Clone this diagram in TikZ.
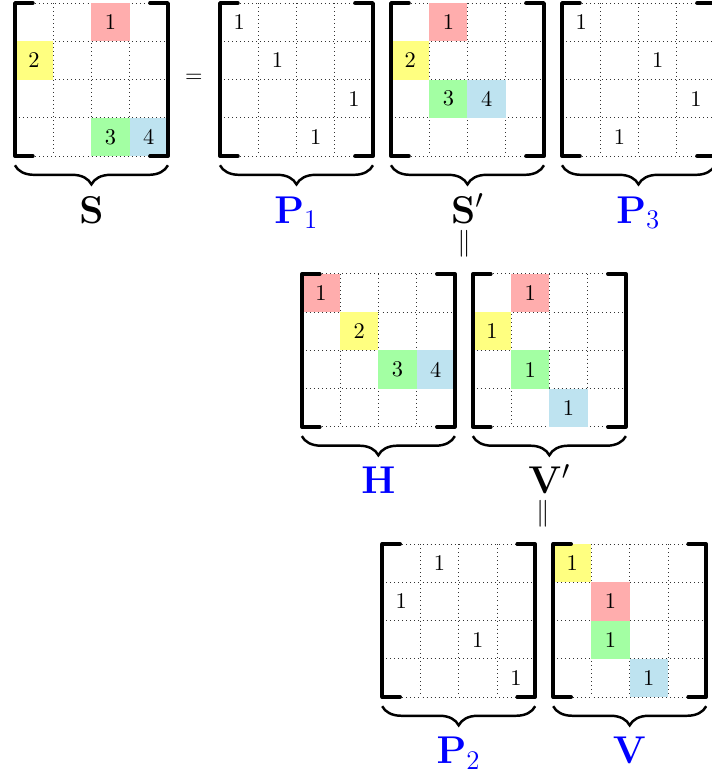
\documentclass[tikz,border=0pt]{standalone}
\usepackage{amsmath}
\usepackage{amssymb}
\usepackage{xcolor}
\usepackage{tikz}
\usetikzlibrary{positioning,calc,decorations.pathreplacing}
\definecolor{cellred}{HTML}{FFADAD}
\definecolor{cellyellow}{HTML}{FFFF80}
\definecolor{cellgreen}{HTML}{A3FFA3}
\definecolor{cellblue}{HTML}{BEE3F0}
\definecolor{labblue}{HTML}{0000FF}
\begin{document}
\begin{tikzpicture}[x=0.6cm, y=0.6cm,
  gridln/.style={black!80, line width=0.4pt, dash pattern=on 0.4pt off 1.4pt},
  bracket/.style={line width=1.6pt, line cap=round, line join=round},
  brc/.style={decorate, decoration={brace, mirror, amplitude=0.3cm}, line width=1.1pt},
  entry/.style={inner sep=0pt, font=\normalsize},
  lab/.style={anchor=base, inner sep=1pt, font=\LARGE},
  eqs/.style={inner sep=0pt, font=\large},
]
\useasboundingbox (0,0) rectangle (18.59,-20.18);
\def\tk{0.47}
% corners of the eight matrices
\foreach \m/\mx/\my in {S/0.39/-0.08, P1/5.75/-0.08, Sp/10.22/-0.08, P3/14.69/-0.08,
    H/7.89/-7.16, Vp/12.36/-7.16, P2/9.99/-14.22, V/14.46/-14.22} {
  \coordinate (\m) at (\mx,\my);
  \foreach \k in {0,...,4} {
    \draw[gridln] ($(\m)+(\k,0)$) -- ++(0,-4);
    \draw[gridln] ($(\m)+(0,-\k)$) -- ++(4,0);
  }
}

% entries: matrix/row/col/fill/text
\foreach \m/\r/\c/\col/\t in {%
  S/1/3/cellred/1, S/2/1/cellyellow/2, S/4/3/cellgreen/3, S/4/4/cellblue/4,
  P1/1/1/none/1, P1/2/2/none/1, P1/3/4/none/1, P1/4/3/none/1,
  Sp/1/2/cellred/1, Sp/2/1/cellyellow/2, Sp/3/2/cellgreen/3, Sp/3/3/cellblue/4,
  P3/1/1/none/1, P3/2/3/none/1, P3/3/4/none/1, P3/4/2/none/1,
  H/1/1/cellred/1, H/2/2/cellyellow/2, H/3/3/cellgreen/3, H/3/4/cellblue/4,
  Vp/1/2/cellred/1, Vp/2/1/cellyellow/1, Vp/3/2/cellgreen/1, Vp/4/3/cellblue/1,
  P2/1/2/none/1, P2/2/1/none/1, P2/3/3/none/1, P2/4/4/none/1,
  V/1/1/cellyellow/1, V/2/2/cellred/1, V/3/2/cellgreen/1, V/4/3/cellblue/1%
} {
  \path[fill=\col] ($(\m)+(\c-1,1-\r)$) rectangle ++(1,-1);
  \node[entry] (\m-\r-\c) at ($(\m)+(\c-0.5,0.5-\r)$) {\t};
}

% brackets and braces
\foreach \m in {S,P1,Sp,P3,H,Vp,P2,V} {
  \draw[bracket] ($(\m)+(\tk,0)$) -- (\m) -- ++(0,-4) -- ++(\tk,0);
  \draw[bracket] ($(\m)+(4-\tk,0)$) -- ++(\tk,0) -- ++(0,-4) -- ++(-\tk,0);
  \draw[brc] ($(\m)+(0,-4.24)$) -- ($(\m)+(4,-4.24)$);
}

% labels under the braces
\foreach \m/\t/\c in {S/{$\mathbf{S}$}/black, P1/{$\mathbf{P}_1$}/labblue,
    Sp/{$\mathbf{S}'$}/black, P3/{$\mathbf{P}_3$}/labblue,
    H/{$\mathbf{H}$}/labblue, Vp/{$\mathbf{V}'$}/black,
    P2/{$\mathbf{P}_2$}/labblue, V/{$\mathbf{V}$}/labblue} {
  \node[lab, text=\c] (lab-\m) at ($(\m)+(2,-5.75)$) {\t};
}

\node (eq0) at (5.07,-2.04) {$=$};
\node[eqs] (eq1) at ($(Sp)+(1.91,-6.29)$) {$\|$};
\node[eqs] (eq2) at ($(Vp)+(1.83,-6.27)$) {$\|$};
\end{tikzpicture}
\end{document}
